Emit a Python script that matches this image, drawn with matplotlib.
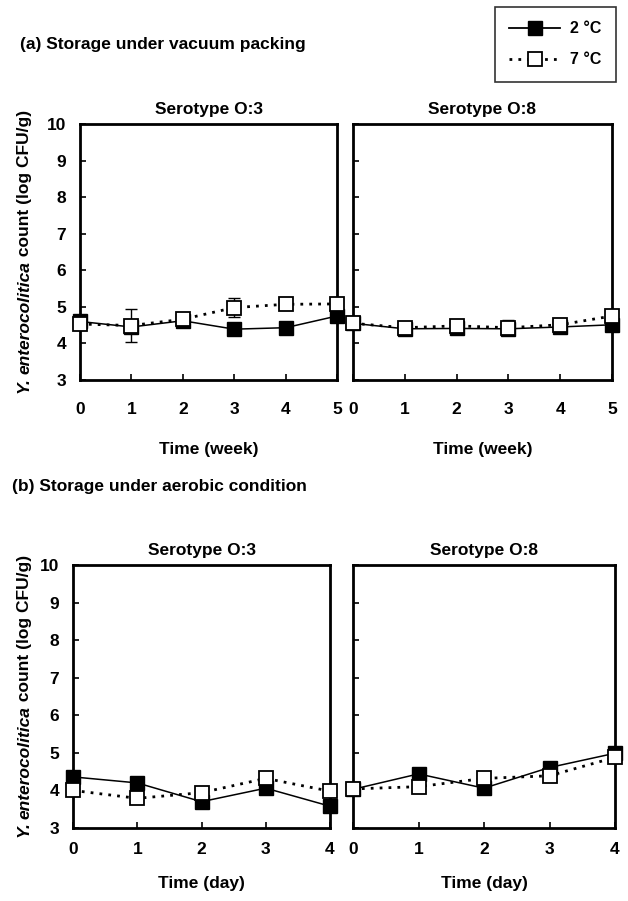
import numpy as np
import matplotlib
matplotlib.use("Agg")
import matplotlib.pyplot as plt
from matplotlib.lines import Line2D

plt.rcParams['font.family'] = ['Liberation Sans', 'DejaVu Sans']
plt.rcParams['font.weight'] = 'bold'

# vacuum packing, time in weeks
weeks = [0, 1, 2, 3, 4, 5]
vac_o3_2c = [4.60, 4.45, 4.62, 4.39, 4.43, 4.75]
vac_o3_7c = [4.53, 4.49, 4.66, 4.98, 5.07, 5.08]
vac_o3_7c_err = [0, 0.44, 0, 0.26, 0, 0]
vac_o8_2c = [4.55, 4.40, 4.41, 4.40, 4.45, 4.51]
vac_o8_7c = [4.55, 4.43, 4.48, 4.43, 4.51, 4.75]
vac_o8_7c_err = [0, 0, 0, 0.2, 0, 0]

# aerobic condition, time in days
days = [0, 1, 2, 3, 4]
aer_o3_2c = [4.36, 4.20, 3.70, 4.06, 3.58]
aer_o3_7c = [4.00, 3.79, 3.94, 4.32, 3.98]
aer_o8_2c = [4.03, 4.44, 4.06, 4.61, 4.99]
aer_o8_7c = [4.04, 4.10, 4.32, 4.39, 4.88]

W, H = 628, 901
fig = plt.figure(figsize=(W / 100, H / 100), dpi=100)


def box(x0, y0, x1, y1):
    # pixel box (top-left origin) -> figure fraction
    return [x0 / W, 1 - y1 / H, (x1 - x0) / W, (y1 - y0) / H]


panels = [
    (box(80, 124, 337, 380), weeks, vac_o3_2c, vac_o3_7c, vac_o3_7c_err, 'Serotype O:3', 'Time (week)', True, 16, 18),
    (box(353, 124, 612, 380), weeks, vac_o8_2c, vac_o8_7c, vac_o8_7c_err, 'Serotype O:8', 'Time (week)', False, 16, 18),
    (box(73, 565, 330, 828), days, aer_o3_2c, aer_o3_7c, None, 'Serotype O:3', 'Time (day)', True, 10, 14),
    (box(353, 565, 615, 828), days, aer_o8_2c, aer_o8_7c, None, 'Serotype O:8', 'Time (day)', False, 10, 14),
]

fs = 12.5
dots = (0, (1, 2.2))
axes = []
for rect, t, y2, y7, err, title, xlab, left, xpad, lpad in panels:
    ax = fig.add_axes(rect)
    ax.plot(t, y2, '-', color='black', lw=1.1, marker='s', ms=9.5,
            mfc='black', mec='black', clip_on=False, zorder=3)
    if err is not None:
        ax.errorbar(t, y7, yerr=err, fmt='none', ecolor='black', elinewidth=1,
                    capsize=4, capthick=1, clip_on=False, zorder=4)
    ax.plot(t, y7, color='black', lw=2, ls=dots, marker='s', ms=9.5,
            mfc='white', mec='black', mew=1.3, clip_on=False, zorder=5)
    ax.set_xlim(t[0], t[-1])
    ax.set_ylim(3, 10)
    ax.set_xticks(t)
    ax.set_yticks(range(3, 11))
    ax.tick_params(direction='in', length=4, width=1.2, labelsize=fs, pad=xpad, axis='x')
    ax.tick_params(direction='in', length=4, width=1.2, labelsize=fs, pad=10, axis='y')
    if not left:
        ax.set_yticklabels([])
    for sp in ax.spines.values():
        sp.set_linewidth(2)
    ax.set_title(title, fontsize=fs, fontweight='bold', pad=7)
    ax.set_xlabel(xlab, fontsize=fs, fontweight='bold', labelpad=lpad)
    axes.append(ax)

fig.text(20 / W, 1 - 45 / H, '(a) Storage under vacuum packing', fontsize=fs,
         fontweight='bold', va='center', ha='left')
fig.text(12 / W, 1 - 487 / H, '(b) Storage under aerobic condition', fontsize=fs,
         fontweight='bold', va='center', ha='left')

# y label with italic species name, built from pieces
fig.canvas.draw()
renderer = fig.canvas.get_renderer()
pieces = [('Y. ', 'italic'), ('enterocolitica', 'italic'), (' count (log CFU/g)', 'normal')]
for ax in (axes[0], axes[2]):
    pos = ax.get_position()
    yc = (pos.y0 + pos.y1) / 2 * H
    xc = 25
    objs = []
    total = 0
    for s, style in pieces:
        tx = fig.text(0, 0, s, fontsize=fs, fontweight='bold', style=style,
                      rotation=90, ha='center', va='bottom')
        L = tx.get_window_extent(renderer).height
        objs.append((tx, L))
        total += L
    ycur = yc - total / 2
    for tx, L in objs:
        tx.set_position((xc / W, ycur / H))
        ycur += L

handles = [
    Line2D([], [], color='black', lw=1.3, marker='s', ms=10, mfc='black', mec='black'),
    Line2D([], [], color='black', lw=2, ls=dots, marker='s', ms=10, mfc='white', mec='black', mew=1.3),
]
leg = fig.legend(handles, ['2 °C', '7 °C'], loc='upper left',
                 bbox_to_anchor=(495 / W, 1 - 7 / H), frameon=True, fancybox=False,
                 edgecolor='black', fontsize=11.5, handlelength=3.2, borderpad=0.9,
                 labelspacing=1.0, handletextpad=0.6, borderaxespad=0)
leg.get_frame().set_linewidth(1.2)
for txt in leg.get_texts():
    txt.set_fontweight('bold')

fig.savefig('out.png', dpi=100)
